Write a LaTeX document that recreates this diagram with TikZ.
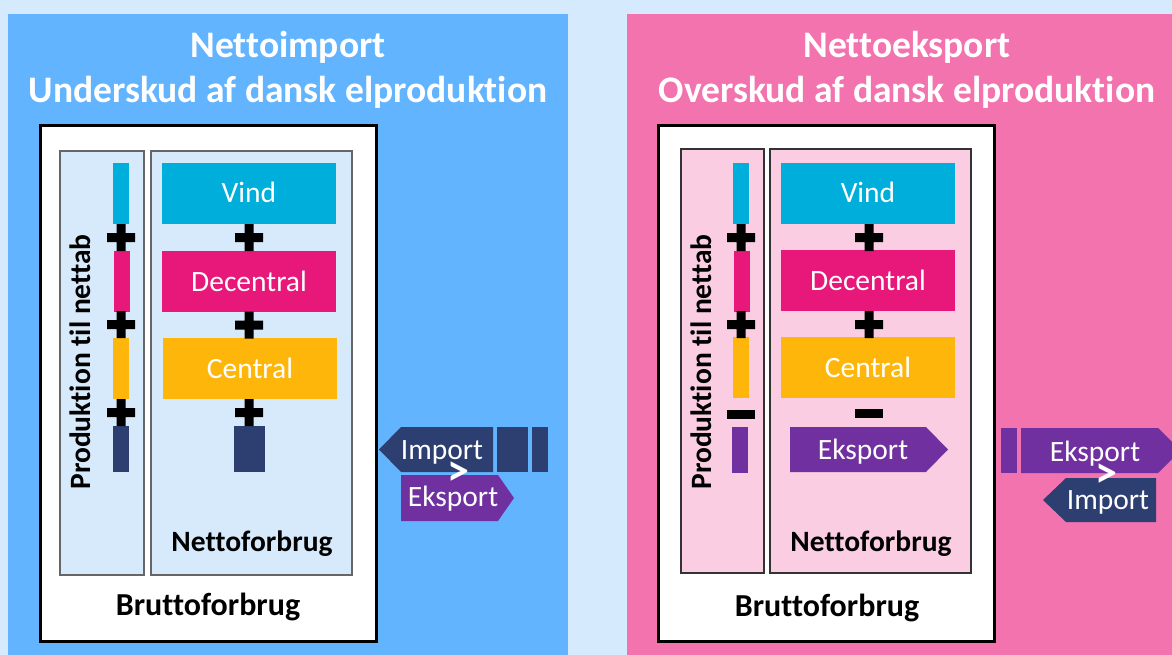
\documentclass[tikz,border=0pt]{standalone}
\usepackage{fontspec}
\setmainfont[Ligatures=NoCommon]{Carlito}
\usepackage{xcolor}

\definecolor{bgsky}{HTML}{D5EBFD}
\definecolor{impblue}{HTML}{62B4FF}
\definecolor{exppink}{HTML}{F273AE}
\definecolor{paleblue}{HTML}{D6EAFB}
\definecolor{palepink}{HTML}{FACDE2}
\definecolor{vindc}{HTML}{00AEDB}
\definecolor{decc}{HTML}{E8177A}
\definecolor{centc}{HTML}{FFB60A}
\definecolor{impc}{HTML}{2D3E70}
\definecolor{expc}{HTML}{7030A0}

\begin{document}
\begin{tikzpicture}[
    x=1pt, y=-1pt,
    bar/.style={fill=#1, minimum width=174pt, minimum height=61pt,
                inner sep=0pt, text=white, font=\fontsize{29.5}{32}\selectfont,
                text height=19pt, text depth=0pt},
    strip/.style={fill=#1, minimum width=16pt, minimum height=61pt,
                  inner sep=0pt},
    frame/.style={draw=black, line width=3pt, fill=white},
    panel/.style={draw=#1!80!black, line width=1.3pt},
    title/.style={font=\fontsize{37.5}{44}\selectfont\bfseries, text=white},
    lbl/.style={font=\fontsize{29.5}{32}\selectfont, text=white, inner sep=0pt},
    cap/.style={font=\fontsize{#1}{34}\selectfont\bfseries, inner sep=0pt},
    cap/.default={29.5},
    gt/.style={font=\fontsize{44}{44}\selectfont\bfseries, text=white,
               inner sep=0pt}
]
\path[use as bounding box] (0,0) rectangle (1172,655);
\clip (0,0) rectangle (1172,655);
\fill[bgsky] (0,0) rectangle (1172,655);

% ---- Left: net import ----
\fill[impblue] (8,14) rectangle (568,655);
\node[title] (impttl) at (288,47) {Nettoimport};
\node[title] (impsub) at (288,92) {Underskud af dansk elproduktion};

\draw[frame] (40,126) rectangle (376,641);
\draw[panel=gray, fill=paleblue] (60,151) rectangle (144,575);
\draw[panel=gray, fill=paleblue] (151,151) rectangle (352,575);

\node[bar=vindc] (vindA) at (249,193.5) {Vind};
\node[bar=decc]  (decA)  at (249,281.5) {Decentral};
\node[bar=centc] (centA) at (250,368.5) {Central};
\node[strip=impc, minimum width=31pt, minimum height=46pt] (impA)
      at (249.5,449) {};

% thin strips for grid loss
\node[strip=vindc] (vindAs) at (121,193.5) {};
\node[strip=decc]  (decAs)  at (122,281.5) {};
\node[strip=centc] (centAs) at (121,368.5) {};
\node[strip=impc, minimum height=46pt] (impAs) at (121,449) {};

% plus signs
\foreach \x/\y in {249/237.5, 249/325, 249/412.5,
                   121/237.5, 121/324.5, 121/412.5}
    \fill[shift={(\x,\y)}] (-14,-4.5) rectangle (14,4.5)
                           (-4.5,-13.5) rectangle (4.5,13.5);

\node[cap, rotate=90, anchor=base] (lossA) at (90,362)
      {Produktion til nettab};
\node[cap, anchor=base] (nettoA) at (252,551) {Nettoforbrug};
\node[cap=32, anchor=base] (bruttoA) at (208,615) {Bruttoforbrug};

% exchange with neighbours
\fill[impc] (379,449.5) -- (401,427) -- (493,427) -- (493,472)
            -- (401,472) -- cycle;
\fill[impc] (497,427) rectangle (528,472);
\fill[impc] (532,427) rectangle (548,472);
\node[lbl, anchor=base] (impAtxt) at (442,459) {Import};
\fill[expc] (401,475) -- (498,475) -- (514,498) -- (498,521)
            -- (401,521) -- cycle;
\node[lbl, anchor=base] (expAtxt) at (453,506) {Eksport};
\node[gt] (gtA) at (458,474) {>};

% ---- Right: net export ----
\fill[exppink] (627,14) rectangle (1172,655);
\node[title] (expttl) at (907,47) {Nettoeksport};
\node[title] (expsub) at (907,92) {Overskud af dansk elproduktion};

\draw[frame] (658,126) rectangle (994,641);
\draw[panel=darkgray, fill=palepink] (681,149) rectangle (764,573);
\draw[panel=darkgray, fill=palepink] (770,149) rectangle (971,573);

\node[bar=vindc] (vindB) at (868,193.5) {Vind};
\node[bar=decc]  (decB)  at (868,280.5) {Decentral};
\node[bar=centc] (centB) at (868,367.5) {Central};
\fill[expc] (790,427) -- (926,427) -- (948,449.5) -- (926,472)
            -- (790,472) -- cycle;
\node[lbl, anchor=base] (expBin) at (863,459) {Eksport};

\node[strip=vindc] (vindBs) at (741,193.5) {};
\node[strip=decc]  (decBs)  at (742,281.5) {};
\node[strip=centc] (centBs) at (741,367.5) {};
\node[strip=expc, minimum height=46pt] (expBs) at (740,450) {};

\foreach \x/\y in {869/237.5, 869/324.5, 741/237.5, 741/324.5}
    \fill[shift={(\x,\y)}] (-14,-4.5) rectangle (14,4.5)
                           (-4.5,-13.5) rectangle (4.5,13.5);
% minus signs
\foreach \x/\y in {869/413.5, 741/414.5}
    \fill[shift={(\x,\y)}] (-14,-4.5) rectangle (14,4.5);

\node[cap, rotate=90, anchor=base] (lossB) at (711,362)
      {Produktion til nettab};
\node[cap, anchor=base] (nettoB) at (871,551) {Nettoforbrug};
\node[cap=32, anchor=base] (bruttoB) at (827,616) {Bruttoforbrug};

% exchange with neighbours
\fill[expc] (1001,428) rectangle (1017,473);
\fill[expc] (1021,428) -- (1158,428) -- (1180.5,450.5) -- (1158,473)
            -- (1021,473) -- cycle;
\node[lbl, anchor=base] (expBtxt) at (1095,461) {Eksport};
\fill[impc] (1043,500) -- (1066,478) -- (1156,478) -- (1156,522)
            -- (1066,522) -- cycle;
\node[lbl, anchor=base] (impBtxt) at (1108,509) {Import};
\node[gt] (gtB) at (1106,476) {>};

\end{tikzpicture}
\end{document}
